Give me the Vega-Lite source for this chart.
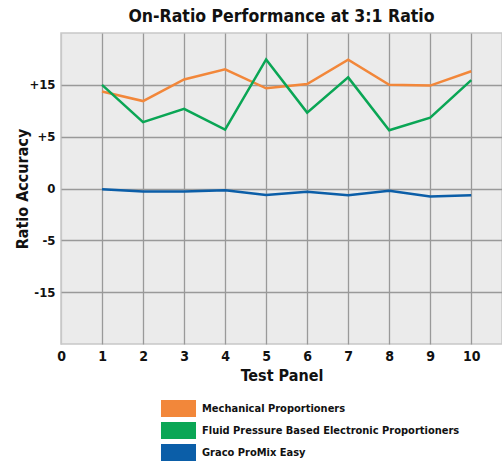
{
  "$schema": "https://vega.github.io/schema/vega-lite/v6.json",
  "width": 441,
  "height": 311,
  "autosize": "none",
  "padding": {"left": 61, "top": 33, "right": 0, "bottom": 117},
  "background": "white",
  "title": {
    "text": "On-Ratio Performance at 3:1 Ratio",
    "font": "DejaVu Sans Condensed, Liberation Sans, sans-serif",
    "fontSize": 17.5,
    "fontWeight": "bold",
    "color": "#111111",
    "anchor": "middle",
    "offset": 8
  },
  "config": {
    "view": {"fill": "#ebebeb", "stroke": "#c8c8c8", "strokeWidth": 1.5},
    "font": "DejaVu Sans Condensed, Liberation Sans, sans-serif"
  },
  "data": {
    "values": [
      {"panel": 1, "series": "Mechanical Proportioners", "accuracy": 13.3},
      {"panel": 2, "series": "Mechanical Proportioners", "accuracy": 11.1},
      {"panel": 3, "series": "Mechanical Proportioners", "accuracy": 16.5},
      {"panel": 4, "series": "Mechanical Proportioners", "accuracy": 19.6},
      {"panel": 5, "series": "Mechanical Proportioners", "accuracy": 14.1},
      {"panel": 6, "series": "Mechanical Proportioners", "accuracy": 15.2},
      {"panel": 7, "series": "Mechanical Proportioners", "accuracy": 23.0},
      {"panel": 8, "series": "Mechanical Proportioners", "accuracy": 15.0},
      {"panel": 9, "series": "Mechanical Proportioners", "accuracy": 14.8},
      {"panel": 10, "series": "Mechanical Proportioners", "accuracy": 19.0},
      {"panel": 1, "series": "Fluid Pressure Based Electronic Proportioners", "accuracy": 15.0},
      {"panel": 2, "series": "Fluid Pressure Based Electronic Proportioners", "accuracy": 7.15},
      {"panel": 3, "series": "Fluid Pressure Based Electronic Proportioners", "accuracy": 9.5},
      {"panel": 4, "series": "Fluid Pressure Based Electronic Proportioners", "accuracy": 6.0},
      {"panel": 5, "series": "Fluid Pressure Based Electronic Proportioners", "accuracy": 23.1},
      {"panel": 6, "series": "Fluid Pressure Based Electronic Proportioners", "accuracy": 8.8},
      {"panel": 7, "series": "Fluid Pressure Based Electronic Proportioners", "accuracy": 17.1},
      {"panel": 8, "series": "Fluid Pressure Based Electronic Proportioners", "accuracy": 5.9},
      {"panel": 9, "series": "Fluid Pressure Based Electronic Proportioners", "accuracy": 7.9},
      {"panel": 10, "series": "Fluid Pressure Based Electronic Proportioners", "accuracy": 16.3},
      {"panel": 1, "series": "Graco ProMix Easy", "accuracy": -0.05},
      {"panel": 2, "series": "Graco ProMix Easy", "accuracy": -0.21},
      {"panel": 3, "series": "Graco ProMix Easy", "accuracy": -0.21},
      {"panel": 4, "series": "Graco ProMix Easy", "accuracy": -0.12},
      {"panel": 5, "series": "Graco ProMix Easy", "accuracy": -0.45},
      {"panel": 6, "series": "Graco ProMix Easy", "accuracy": -0.23},
      {"panel": 7, "series": "Graco ProMix Easy", "accuracy": -0.47},
      {"panel": 8, "series": "Graco ProMix Easy", "accuracy": -0.16},
      {"panel": 9, "series": "Graco ProMix Easy", "accuracy": -0.57},
      {"panel": 10, "series": "Graco ProMix Easy", "accuracy": -0.47}
    ]
  },
  "mark": {"type": "line", "strokeWidth": 2.5},
  "encoding": {
    "x": {
      "field": "panel",
      "type": "quantitative",
      "scale": {"domain": [0, 10.75], "nice": false, "zero": false},
      "axis": {
        "title": "Test Panel",
        "titleFont": "DejaVu Sans Condensed, Liberation Sans, sans-serif",
        "titleFontSize": 16,
        "titleFontWeight": "bold",
        "titleColor": "#111111",
        "titlePadding": 4,
        "values": [0, 1, 2, 3, 4, 5, 6, 7, 8, 9, 10],
        "labelFont": "DejaVu Sans Condensed, Liberation Sans, sans-serif",
        "labelFontSize": 14,
        "labelFontWeight": "bold",
        "labelColor": "#111111",
        "labelPadding": 5,
        "labelFlush": false,
        "ticks": false,
        "domain": false,
        "grid": true,
        "gridColor": {"condition": {"test": "datum.value === 0", "value": "#c8c8c8"}, "value": "#999999"},
        "gridWidth": 1.3
      }
    },
    "y": {
      "field": "accuracy",
      "type": "quantitative",
      "scale": {"type": "symlog", "constant": 5, "domain": [-35, 35], "nice": false},
      "axis": {
        "title": "Ratio Accuracy",
        "titleFont": "DejaVu Sans Condensed, Liberation Sans, sans-serif",
        "titleFontSize": 16,
        "titleFontWeight": "bold",
        "titleColor": "#111111",
        "titleX": -39,
        "titleBaseline": "middle",
        "values": [-15, -5, 0, 5, 15],
        "labelExpr": "(datum.value > 0 ? '+' : '') + datum.value",
        "labelFont": "DejaVu Sans Condensed, Liberation Sans, sans-serif",
        "labelFontSize": 13,
        "labelFontWeight": "bold",
        "labelColor": "#111111",
        "labelPadding": 6,
        "ticks": false,
        "domain": false,
        "grid": true,
        "gridColor": "#999999",
        "gridWidth": 1.3
      }
    },
    "color": {
      "field": "series",
      "type": "nominal",
      "scale": {
        "domain": ["Mechanical Proportioners", "Fluid Pressure Based Electronic Proportioners", "Graco ProMix Easy"],
        "range": ["#f2873a", "#0aa655", "#0b5ea8"]
      },
      "legend": {
        "title": null,
        "orient": "none",
        "legendX": 109,
        "legendY": 367,
        "direction": "vertical",
        "symbolType": "M-2.06,-1H2.06V1H-2.06Z",
        "symbolSize": 289,
        "symbolStrokeWidth": 0,
        "symbolOpacity": 1,
        "rowPadding": 5,
        "labelFont": "DejaVu Sans Condensed, Liberation Sans, sans-serif",
        "labelFontSize": 11,
        "labelFontWeight": "bold",
        "labelColor": "#111111",
        "labelOffset": 15,
        "labelLimit": 400,
        "encode": {
          "symbols": {"update": {"fill": {"scale": "color", "field": "value"}, "fillOpacity": {"value": 1}}}
        }
      }
    }
  }
}
